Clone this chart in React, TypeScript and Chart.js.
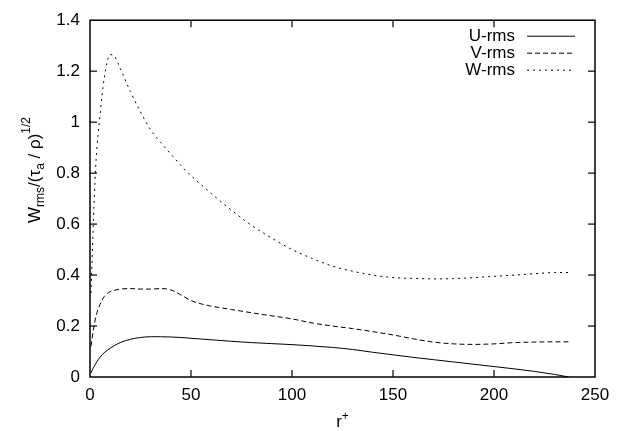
import React, { useEffect, useRef } from "react";
import { Chart, registerables } from "chart.js";

Chart.register(...registerables);

// r+ positions (shared by all series)
const R_PLUS = [0.5, 1, 2, 3, 5, 7, 10, 12, 15, 20, 25, 30, 35, 40, 45, 50, 55, 60, 70, 80, 90, 100, 110, 120, 130, 140, 150, 160, 170, 180, 190, 200, 210, 220, 230, 237];

const U_RMS = [0.015, 0.025, 0.04, 0.055, 0.078, 0.095, 0.113, 0.123, 0.135, 0.148, 0.155, 0.158, 0.158, 0.157, 0.155, 0.152, 0.149, 0.146, 0.14, 0.135, 0.131, 0.127, 0.122, 0.116, 0.108, 0.097, 0.087, 0.077, 0.068, 0.059, 0.05, 0.041, 0.032, 0.022, 0.01, 0.0];

const V_RMS = [0.12, 0.15, 0.2, 0.24, 0.285, 0.315, 0.335, 0.34, 0.345, 0.347, 0.345, 0.345, 0.347, 0.342, 0.322, 0.3, 0.287, 0.278, 0.265, 0.252, 0.24, 0.228, 0.212, 0.2, 0.19, 0.178, 0.165, 0.15, 0.137, 0.13, 0.128, 0.13, 0.135, 0.137, 0.138, 0.138];

const W_RMS = [0.33, 0.45, 0.68, 0.85, 1.03, 1.17, 1.265, 1.26, 1.21, 1.12, 1.04, 0.97, 0.92, 0.875, 0.83, 0.79, 0.755, 0.72, 0.655, 0.595, 0.545, 0.5, 0.465, 0.435, 0.415, 0.4, 0.39, 0.387, 0.385, 0.386, 0.39, 0.395, 0.4, 0.405, 0.41, 0.41];

const SERIES_LABELS = ["U-rms", "V-rms", "W-rms"];
const X_MIN = 0, X_MAX = 250, X_STEP = 50;
const Y_MIN = 0, Y_MAX = 1.4, Y_STEP = 0.2;

const FONT = "'Liberation Sans', Arial, Helvetica, sans-serif";
const MAIN = 17;
const SMALL = 12;

const DASHES: number[][] = [[], [5, 3], [2, 4]];

function drawPieces(ctx: CanvasRenderingContext2D, pieces: { t: string; s: number; dy: number }[], x0: number, y0: number) {
  let x = x0;
  for (const p of pieces) {
    ctx.font = `${p.s}px ${FONT}`;
    ctx.fillText(p.t, x, y0 + p.dy);
    x += ctx.measureText(p.t).width;
  }
}
function piecesWidth(ctx: CanvasRenderingContext2D, pieces: { t: string; s: number; dy: number }[]) {
  let w = 0;
  for (const p of pieces) {
    ctx.font = `${p.s}px ${FONT}`;
    w += ctx.measureText(p.t).width;
  }
  return w;
}

const framePlugin = {
  id: "gnuFrame",
  afterDatasetsDraw(chart: any) {
    const { ctx, chartArea: a, scales } = chart;
    const xs = scales.x, ys = scales.y;
    ctx.save();
    ctx.strokeStyle = "#000";
    ctx.fillStyle = "#000";
    ctx.setLineDash([]);
    ctx.lineWidth = 1.5;
    ctx.strokeRect(a.left, a.top, a.right - a.left, a.bottom - a.top);
    ctx.lineWidth = 1.2;
    const TL = 7;
    const seg = (x1: number, y1: number, x2: number, y2: number) => {
      ctx.beginPath(); ctx.moveTo(x1, y1); ctx.lineTo(x2, y2); ctx.stroke();
    };
    xs.ticks.forEach((t: any) => {
      const p = xs.getPixelForValue(t.value);
      if (p <= a.left + 1 || p >= a.right - 1) return;
      seg(p, a.bottom, p, a.bottom - TL);
      seg(p, a.top, p, a.top + TL);
    });
    ys.ticks.forEach((t: any) => {
      const p = ys.getPixelForValue(t.value);
      if (p >= a.bottom - 1 || p <= a.top + 1) return;
      seg(a.left, p, a.left + TL, p);
      seg(a.right, p, a.right - TL, p);
    });

    // legend (gnuplot style: text right-aligned, sample on the right)
    ctx.font = `${MAIN}px ${FONT}`;
    ctx.textAlign = "right";
    ctx.textBaseline = "middle";
    ctx.lineWidth = 1;
    const textRight = a.right - 80;
    chart.data.datasets.forEach((ds: any, i: number) => {
      const y = a.top + 16 + i * 17;
      ctx.fillText(ds.label, textRight, y);
      ctx.setLineDash(ds.borderDash || []);
      seg(textRight + 12, y, textRight + 60, y);
    });
    ctx.setLineDash([]);

    // axis titles
    ctx.textAlign = "left";
    ctx.textBaseline = "alphabetic";
    const yPieces = [
      { t: "W", s: MAIN, dy: 0 },
      { t: "rms", s: SMALL, dy: 4 },
      { t: "/(τ", s: MAIN, dy: 0 },
      { t: "a", s: SMALL, dy: 4 },
      { t: " / ρ)", s: MAIN, dy: 0 },
      { t: "1/2", s: SMALL, dy: -10 },
    ];
    const w = piecesWidth(ctx, yPieces);
    ctx.save();
    ctx.translate(40, 170);
    ctx.rotate(-Math.PI / 2);
    drawPieces(ctx, yPieces, -w / 2, 0);
    ctx.restore();

    const xPieces = [
      { t: "r", s: MAIN, dy: 0 },
      { t: "+", s: SMALL, dy: -7 },
    ];
    const xw = piecesWidth(ctx, xPieces);
    drawPieces(ctx, xPieces, (a.left + a.right) / 2 - xw / 2, 427);
    ctx.restore();
  },
};

export default function App() {
  const ref = useRef<HTMLCanvasElement>(null);
  useEffect(() => {
    if (!ref.current) return;
    const mk = (vals: number[]) => R_PLUS.map((r, i) => ({ x: r, y: vals[i] }));
    const series = [U_RMS, V_RMS, W_RMS];
    const chart = new Chart(ref.current, {
      type: "line",
      data: {
        datasets: series.map((vals, i) => ({
          label: SERIES_LABELS[i],
          data: mk(vals),
          borderColor: "#000",
          backgroundColor: "#000",
          borderWidth: 1,
          borderDash: DASHES[i],
          pointRadius: 0,
          fill: false,
          cubicInterpolationMode: "monotone" as const,
        })),
      },
      options: {
        responsive: false,
        animation: false,
        devicePixelRatio: 1,
        layout: { padding: { left: 0, top: 14, right: 24, bottom: 0 } },
        plugins: { legend: { display: false }, tooltip: { enabled: false } },
        scales: {
          x: {
            type: "linear",
            min: X_MIN,
            max: X_MAX,
            ticks: { stepSize: X_STEP, color: "#000", font: { family: FONT, size: MAIN }, padding: 8, maxRotation: 0 },
            grid: { display: false, drawTicks: false },
            border: { display: false },
            afterFit: (s: any) => { s.height = 54; },
          },
          y: {
            type: "linear",
            min: Y_MIN,
            max: Y_MAX,
            ticks: {
              stepSize: Y_STEP,
              color: "#000",
              font: { family: FONT, size: MAIN },
              padding: 10,
              callback: (v: any) => String(Math.round(Number(v) * 10) / 10),
            },
            grid: { display: false, drawTicks: false },
            border: { display: false },
            afterFit: (s: any) => { s.width = 90; },
          },
        },
      },
      plugins: [framePlugin],
    });
    return () => chart.destroy();
  }, []);
  return (
    <div style={{ position: "fixed", left: 0, top: 0, width: 619, height: 431, background: "#fff" }}>
      <canvas ref={ref} width={619} height={431} />
    </div>
  );
}
